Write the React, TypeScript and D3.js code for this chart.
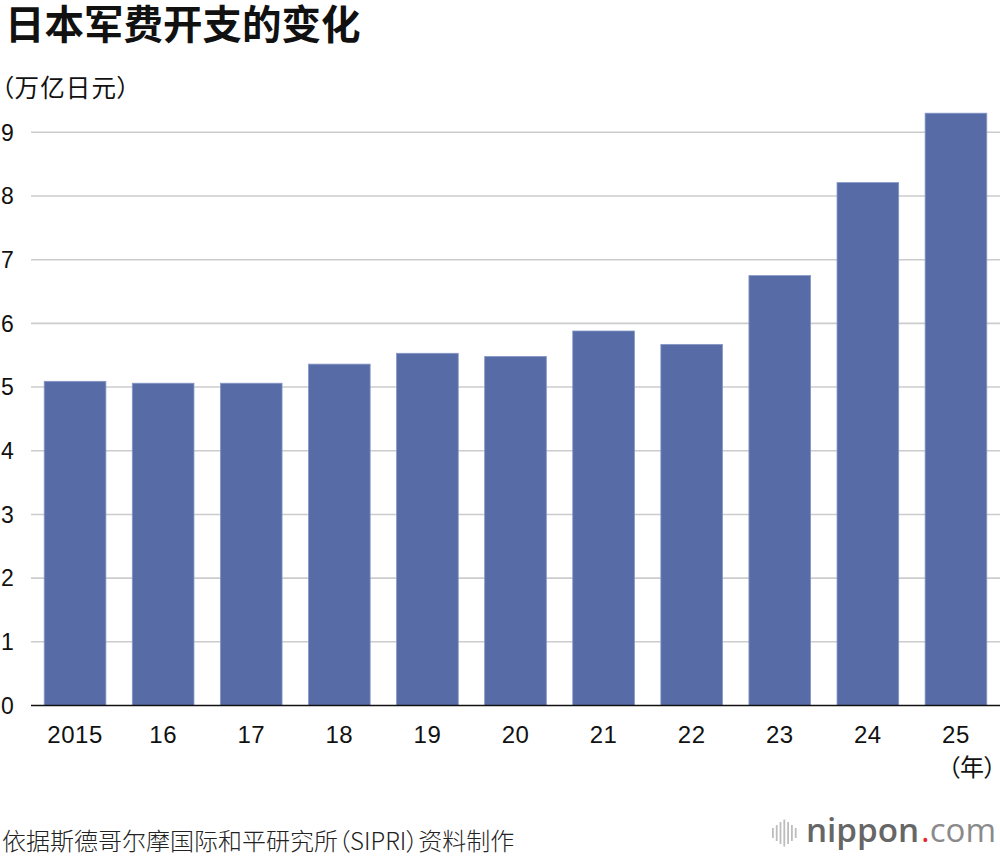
import React from "react";
import * as d3 from "d3";

const years = ["2015", "16", "17", "18", "19", "20", "21", "22", "23", "24", "25"];
const values = [5.09, 5.06, 5.06, 5.36, 5.53, 5.48, 5.88, 5.67, 6.75, 8.21, 9.3];
const yTicks = [0, 1, 2, 3, 4, 5, 6, 7, 8, 9];
const logoBars = [10, 16, 22, 27, 22, 16, 10];

const W = 1000;
const H = 856;
const CJK = '"Noto Sans CJK SC", "Noto Sans CJK JP", sans-serif';
const NUM = '"Liberation Sans", Arial, Helvetica, sans-serif';
const LOGO = '"Open Sans", sans-serif';

export default function App() {
  const x = d3
    .scaleBand<string>()
    .domain(years)
    .range([31, 1000])
    .paddingInner(0.3)
    .paddingOuter(0.15);
  const y = d3.scaleLinear().domain([0, 9]).range([705.5, 132.3]);

  return (
    <svg
      width={W}
      height={H}
      style={{ position: "absolute", left: 0, top: 0, background: "#fff" }}
    >
      <rect x={0} y={0} width={W} height={H} fill="#fff" />
      <text x={5} y={39} fontFamily={CJK} fontWeight={700} fontSize={39.5} fill="#111">
        日本军费开支的变化
      </text>
      <text
        x={1}
        y={97}
        fontFamily={CJK}
        fontSize={24.5}
        letterSpacing={1.2}
        fill="#111"
        style={{ fontFeatureSettings: '"palt"' }}
      >
        （万亿日元）
      </text>

      {yTicks.map((t) => (
        <g key={t}>
          {t > 0 && (
            <line x1={31} x2={1000} y1={y(t)} y2={y(t)} stroke="#cccccc" strokeWidth={1.6} />
          )}
          <text x={1} y={y(t)} dy="0.36em" fontFamily={NUM} fontSize={23} fill="#111">
            {t}
          </text>
        </g>
      ))}

      {years.map((yr, i) => (
        <rect
          key={yr}
          x={x(yr)}
          y={y(values[i])}
          width={x.bandwidth()}
          height={y(0) - y(values[i])}
          fill="#576ca6"
          stroke="#8596c6"
          strokeWidth={0.8}
        />
      ))}

      <line x1={31} x2={1000} y1={y(0)} y2={y(0)} stroke="#111" strokeWidth={1.6} />

      {years.map((yr) => (
        <text
          key={yr}
          x={(x(yr) as number) + x.bandwidth() / 2}
          y={743}
          textAnchor="middle"
          fontFamily={NUM}
          fontSize={24}
          letterSpacing={0.5}
          fill="#111"
        >
          {yr}
        </text>
      ))}
      <text
        x={996}
        y={776}
        textAnchor="end"
        fontFamily={CJK}
        fontSize={24}
        fill="#111"
        style={{ fontFeatureSettings: '"palt"' }}
      >
        （年）
      </text>

      <text
        x={2}
        y={850}
        fontFamily={CJK}
        fontWeight={300}
        fontSize={24}
        fill="#222"
        style={{ fontFeatureSettings: '"palt"' }}
      >
        依据斯德哥尔摩国际和平研究所（SIPRI）资料制作
      </text>

      <g>
        {logoBars.map((h, i) => (
          <rect
            key={i}
            x={772 + i * 3.8}
            y={833 - h / 2}
            width={1.8}
            height={h}
            fill="#bdbdbd"
          />
        ))}
        <text
          x={806}
          y={842}
          fontFamily={LOGO}
          fontWeight={600}
          fontSize={33}
          fill="#666"
          textLength={113}
          lengthAdjust="spacingAndGlyphs"
        >
          nippon
        </text>
        <text
          x={921}
          y={842}
          fontFamily={LOGO}
          fontWeight={400}
          fontSize={32}
          fill="#8a8a8a"
          textLength={75}
          lengthAdjust="spacingAndGlyphs"
        >
          <tspan fill="#e8262d">.</tspan>com
        </text>
      </g>
    </svg>
  );
}
